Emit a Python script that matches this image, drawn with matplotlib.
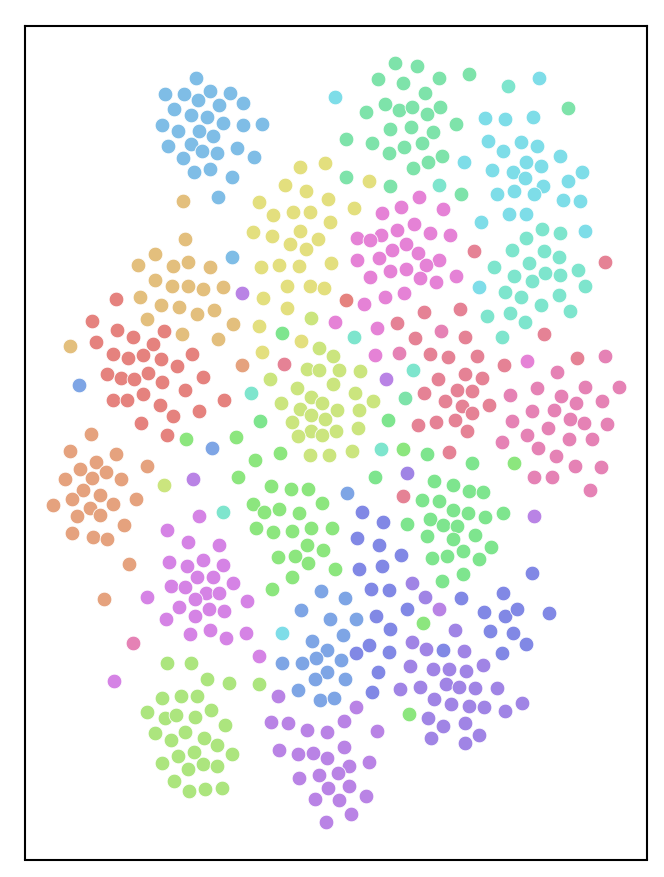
import matplotlib
matplotlib.use("Agg")
import matplotlib.pyplot as plt
import numpy as np

sky = [(196,78),(165,94),(184,94),(210,91),(230,93),(198,100),(219,105),(243,103),(174,109),(191,115),(207,117),(223,123),(243,125),(262,124),(162,125),(178,131),(199,131),(213,136),(168,146),(191,144),(202,151),(217,153),(237,148),(254,157),(183,158),(194,172),(210,169),(232,177),(218,197),(232,257)]
tan = [(183,201),(185,239),(155,254),(138,265),(173,266),(188,262),(210,267),(155,280),(172,286),(188,286),(203,289),(223,287),(140,297),(161,305),(179,307),(197,314),(214,310),(147,319),(233,324),(182,334),(218,339),(70,346)]
salmon = [(116,299),(92,321),(117,330),(133,337),(164,331),(96,342),(153,344),(113,354),(128,358),(143,355),(161,359),(192,354),(177,366),(107,374),(121,378),(134,379),(148,373),(162,382),(203,377),(185,390),(143,394),(113,400),(127,400),(160,405),(224,400),(199,411),(173,416),(141,423),(167,435),(346,300)]
orange = [(242,365),(91,434),(70,451),(116,454),(96,462),(80,469),(106,472),(147,466),(65,479),(92,478),(121,479),(83,490),(72,499),(100,495),(136,499),(53,505),(90,508),(113,504),(77,516),(100,515),(124,525),(72,533),(93,537),(107,539),(129,564),(104,599)]
yellow = [(300,167),(325,163),(285,185),(306,191),(328,199),(259,202),(273,215),(293,212),(310,212),(330,222),(253,232),(272,236),(300,231),(318,239),(290,244),(306,249),(261,267),(279,265),(299,266),(331,263),(287,286),(310,286),(324,288),(263,298),(287,308),(259,326),(301,341),(262,352),(369,181),(354,208)]
lime = [(270,379),(311,318),(319,348),(333,356),(307,369),(319,370),(339,370),(360,371),(333,384),(297,388),(355,393),(373,401),(311,397),(322,403),(281,403),(300,409),(311,415),(337,410),(359,410),(325,419),(292,422),(311,431),(322,435),(336,431),(358,428),(298,436),(310,455),(329,455),(352,451),(164,485)]
lightgreen = [(167,663),(191,663),(207,679),(229,683),(259,684),(162,698),(181,696),(197,696),(211,710),(147,712),(165,718),(176,715),(195,717),(225,725),(155,733),(185,732),(171,740),(204,738),(217,745),(232,754),(194,752),(178,756),(162,763),(203,764),(217,766),(188,769),(174,781),(189,791),(205,789),(222,788)]
green = [(186,439),(236,437),(280,453),(255,460),(238,477),(271,486),(291,489),(308,489),(322,503),(253,504),(264,512),(279,509),(299,513),(256,528),(273,532),(292,531),(311,528),(332,528),(307,545),(323,550),(278,557),(295,556),(308,563),(335,569),(292,577),(272,589),(403,449),(514,463),(423,623),(409,714)]
spring = [(282,333),(260,421),(388,420),(375,477),(427,454),(472,463),(434,481),(453,485),(469,491),(483,492),(422,500),(439,501),(453,510),(468,513),(485,517),(503,513),(407,524),(430,519),(443,525),(457,526),(427,536),(453,539),(475,535),(491,547),(463,551),(447,556),(432,558),(479,559),(463,574),(442,581)]
teal = [(395,63),(417,66),(378,79),(403,83),(439,78),(469,74),(425,93),(385,104),(399,110),(412,107),(427,114),(440,107),(366,112),(456,124),(390,129),(411,127),(433,132),(346,139),(372,143),(389,153),(404,147),(422,143),(442,156),(428,162),(413,168),(346,177),(390,186),(461,194),(568,108),(405,398)]
mint = [(508,86),(439,185),(542,229),(560,233),(526,238),(512,250),(544,251),(559,257),(494,267),(529,263),(578,270),(514,276),(545,273),(560,275),(532,281),(585,286),(505,292),(521,297),(559,295),(541,305),(570,311),(487,316),(510,313),(525,322),(502,337),(354,337),(413,370),(381,449),(251,393),(223,512)]
cyan = [(539,78),(335,97),(485,118),(505,119),(533,117),(488,141),(521,142),(537,146),(503,151),(560,156),(526,162),(541,166),(464,162),(492,170),(513,172),(525,178),(582,172),(568,181),(543,186),(514,191),(497,194),(534,194),(563,200),(580,201),(509,214),(526,214),(481,222),(585,231),(479,287),(282,633)]
cornflower = [(79,385),(212,448),(347,493),(321,591),(345,598),(301,610),(330,619),(356,619),(343,635),(312,641),(327,650),(316,658),(341,660),(282,663),(302,663),(327,672),(315,679),(345,679),(298,690),(320,700),(334,698)]
indigo = [(362,512),(383,522),(357,538),(379,545),(401,555),(382,566),(359,569),(532,573),(371,589),(389,590),(461,598),(503,593),(407,609),(376,616),(484,612),(505,616),(517,609),(549,613),(390,629),(490,631),(513,633),(526,644),(502,653),(369,645),(356,653),(389,652),(378,672),(372,692),(443,650)]
violet = [(407,473),(412,583),(425,597),(455,630),(412,642),(426,649),(464,651),(410,666),(433,669),(449,669),(466,671),(483,665),(400,689),(420,687),(446,684),(459,687),(475,688),(497,688),(434,699),(451,704),(469,706),(484,707),(505,711),(522,703),(428,718),(443,726),(465,723),(479,735),(431,738),(465,743)]
purple = [(242,293),(193,479),(386,379),(534,516),(439,609),(278,696),(356,707),(271,722),(288,723),(344,721),(307,730),(327,732),(377,731),(279,750),(298,754),(313,753),(327,758),(344,747),(349,766),(369,762),(338,773),(319,775),(299,778),(328,788),(349,786),(366,796),(315,799),(339,800),(351,814),(326,822)]
orchid = [(199,516),(167,530),(188,542),(219,545),(203,560),(169,562),(187,566),(223,565),(197,577),(213,577),(233,583),(171,586),(185,587),(206,593),(219,593),(147,597),(195,599),(247,601),(179,607),(209,609),(224,611),(195,616),(166,619),(190,634),(210,630),(226,638),(246,633),(259,656),(114,681)]
magenta = [(419,197),(401,207),(382,213),(443,209),(414,224),(397,230),(430,233),(450,235),(381,235),(357,238),(370,240),(406,244),(392,250),(418,253),(357,260),(379,258),(439,260),(426,265),(406,269),(390,271),(370,277),(420,278),(436,282),(456,276),(385,297),(404,293),(364,304),(335,322),(377,328),(375,355),(527,361)]
pink = [(605,356),(557,372),(619,387),(585,387),(537,388),(510,395),(561,396),(576,403),(602,401),(532,411),(554,410),(570,419),(512,421),(584,423),(607,424),(548,428),(527,435),(569,439),(592,439),(502,442),(538,448),(556,456),(575,466),(601,467),(534,477),(552,477),(590,490),(133,643),(441,331),(399,353)]
rose = [(474,251),(605,262),(424,312),(460,309),(397,323),(415,338),(465,337),(544,334),(430,354),(448,357),(477,356),(504,365),(577,358),(438,379),(465,374),(482,378),(424,393),(457,390),(472,391),(445,401),(462,406),(489,405),(472,413),(418,425),(436,422),(455,420),(467,431),(449,452),(403,496),(284,364)]

groups = [
    (sky, "#7fbde6"), (tan, "#e3bf7d"), (salmon, "#e5827e"), (orange, "#e5a27e"),
    (yellow, "#e3df7e"), (lime, "#cbe57e"), (lightgreen, "#ace57e"), (green, "#8ce67e"),
    (spring, "#7ee58e"), (teal, "#7ee3aa"), (mint, "#7ee5cd"), (cyan, "#7edde8"),
    (cornflower, "#7ea5e5"), (indigo, "#8188e5"), (violet, "#a084e5"), (purple, "#b983e5"),
    (orchid, "#d583e5"), (magenta, "#e582d6"), (pink, "#e582b5"), (rose, "#e58295"),
]

W, H = 664, 877
fig = plt.figure(figsize=(W / 100, H / 100), dpi=100)
ax = fig.add_axes([25 / W, 1 - 859.5 / H, (647 - 25) / W, (859.5 - 26) / H])
for pts, col in groups:
    a = np.array(pts)
    ax.scatter(a[:, 0] - 0.4, a[:, 1], s=112, c=col, edgecolors="white", linewidths=0.6, zorder=2)
ax.set_xlim(25, 647)
ax.set_ylim(859.5, 26)
ax.set_xticks([])
ax.set_yticks([])
for s in ax.spines.values():
    s.set_linewidth(1.5)
    s.set_color("black")
fig.savefig("out.png", dpi=100)
